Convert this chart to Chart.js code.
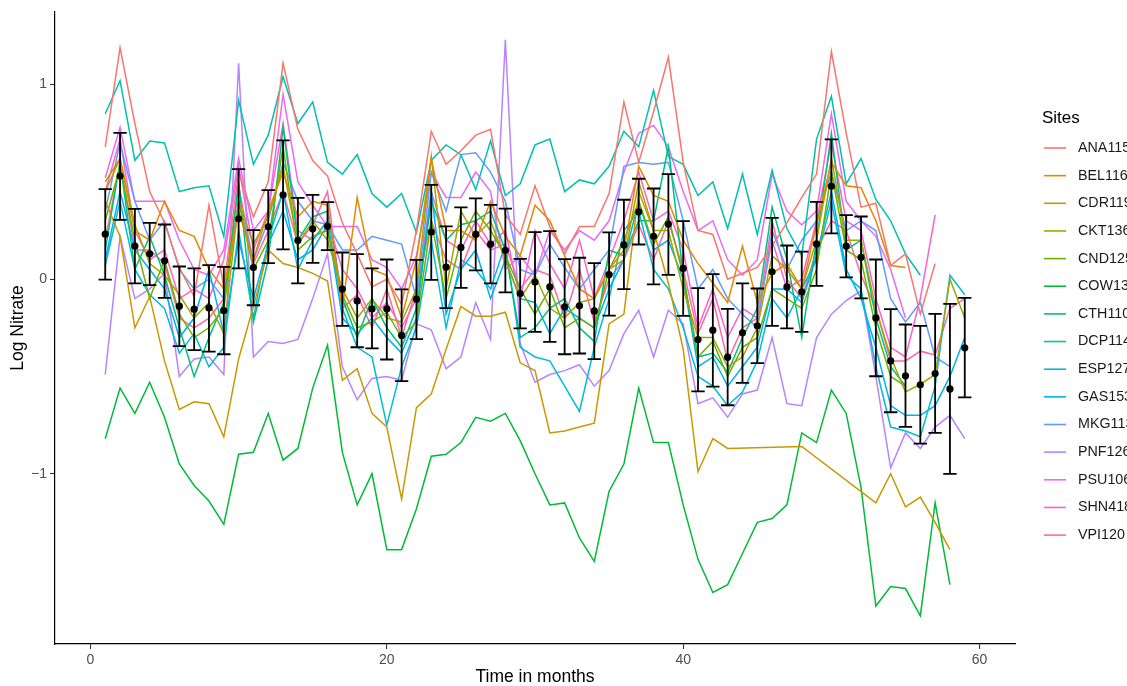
<!DOCTYPE html>
<html>
<head>
<meta charset="utf-8">
<script src="https://cdn.jsdelivr.net/npm/chart.js@4"></script>
<style>
  html, body { margin: 0; padding: 0; background: #fff; overflow: hidden; }
  #wrap { width: 1127px; height: 686px; }
</style>
</head>
<body>
<div id="wrap"><canvas id="chart" width="1127" height="686"></canvas></div>
<script>
const months = [1,2,3,4,5,6,7,8,9,10,11,12,13,14,15,16,17,18,19,20,21,22,23,24,25,26,27,28,29,30,31,32,33,34,35,36,37,38,39,40,41,42,43,44,45,46,47,48,49,50,51,52,53,54,55,56,57,58,59];
const xTicks = [0, 20, 40, 60];
const yTicks = [-1, 0, 1];

const meanNitrate = [0.231,0.530,0.170,0.130,0.094,-0.139,-0.154,-0.148,-0.161,0.310,0.060,0.269,0.433,0.199,0.259,0.272,-0.051,-0.112,-0.153,-0.153,-0.289,-0.103,0.242,0.062,0.163,0.230,0.180,0.148,-0.074,-0.015,-0.040,-0.142,-0.137,-0.163,0.024,0.176,0.346,0.220,0.283,0.055,-0.310,-0.262,-0.401,-0.276,-0.240,0.038,-0.040,-0.065,0.181,0.477,0.170,0.112,-0.199,-0.420,-0.497,-0.543,-0.485,-0.564,-0.353];
const upperNitrate = [0.463,0.752,0.361,0.289,0.281,0.065,0.055,0.072,0.063,0.566,0.252,0.458,0.713,0.418,0.433,0.396,0.137,0.129,0.055,0.101,-0.053,0.099,0.485,0.271,0.369,0.415,0.382,0.363,0.104,0.242,0.247,0.103,0.110,0.082,0.240,0.408,0.516,0.466,0.540,0.298,-0.046,0.026,-0.153,-0.022,-0.048,0.315,0.173,0.142,0.397,0.718,0.329,0.322,0.101,-0.154,-0.233,-0.240,-0.178,-0.127,-0.096];
const lowerNitrate = [-0.002,0.305,-0.022,-0.031,-0.096,-0.344,-0.365,-0.372,-0.386,0.055,-0.134,0.082,0.153,-0.022,0.084,0.149,-0.240,-0.350,-0.356,-0.413,-0.524,-0.308,-0.004,-0.149,-0.045,0.045,-0.022,-0.068,-0.253,-0.271,-0.322,-0.386,-0.382,-0.411,-0.187,-0.051,0.178,-0.027,0.022,-0.189,-0.577,-0.552,-0.648,-0.533,-0.432,-0.240,-0.253,-0.271,-0.034,0.235,0.009,-0.099,-0.499,-0.684,-0.759,-0.845,-0.790,-1.001,-0.608];

const siteNames = ["ANA115","BEL116","CDR119","CKT136","CND125","COW137","CTH110","DCP114","ESP127","GAS153","MKG113","PNF126","PSU106","SHN418","VPI120"];
const siteColors = ["#F8766D","#E58700","#C99800","#A3A500","#6BB100","#00BA38","#00BF7D","#00C0AF","#00BCD8","#00B0F6","#619CFF","#B983FF","#E76BF3","#FD61D1","#FF67A4"];

const ana115 = [0.68,1.19,0.80,0.45,0.29,0.06,-0.09,0.38,-0.04,0.55,0.32,0.50,1.11,0.77,0.61,0.53,0.29,0.13,-0.04,0.00,-0.13,0.25,0.76,0.59,0.66,0.74,0.77,0.33,0.23,0.48,0.27,0.13,0.27,0.27,0.44,0.91,0.60,0.86,1.14,0.60,0.25,0.23,0.00,0.03,0.06,0.17,0.29,0.42,0.54,1.17,0.75,0.37,0.39,0.07,0.13,-0.18,0.08,null,null];
const bel116 = [0.45,0.62,0.25,0.20,0.40,0.25,0.22,0.05,-0.05,0.35,0.10,0.35,0.55,0.32,0.40,0.38,-0.15,0.42,0.05,0.02,-0.20,0.10,0.62,0.25,0.25,0.20,0.40,0.22,0.12,0.38,0.30,0.12,-0.05,-0.10,0.05,0.15,0.58,0.43,0.40,0.20,0.08,-0.02,-0.12,0.17,-0.12,0.03,0.08,-0.05,0.28,0.60,0.48,0.47,0.30,0.07,0.06,null,null,null,null];
const cdr119 = [0.40,0.22,-0.25,-0.09,-0.42,-0.67,-0.63,-0.64,-0.81,-0.41,-0.14,0.15,0.08,0.06,0.03,-0.01,-0.52,-0.46,-0.69,-0.76,-1.13,-0.66,-0.59,-0.36,-0.14,-0.19,-0.19,-0.17,-0.43,-0.47,-0.79,-0.78,-0.76,-0.74,-0.23,-0.18,0.45,0.25,-0.02,-0.36,-0.99,-0.82,-0.87,null,null,null,null,-0.86,null,null,null,null,-1.15,-1.00,-1.17,-1.12,-1.25,-1.39,null];
const ckt136 = [0.50,0.62,0.28,0.08,0.02,-0.08,-0.20,-0.12,-0.28,0.40,0.18,0.32,0.58,0.18,0.30,0.20,-0.05,-0.20,-0.10,-0.20,-0.22,-0.05,0.63,-0.05,0.35,0.22,0.30,0.10,-0.10,0.02,-0.15,-0.20,-0.12,-0.10,0.05,0.10,0.50,0.25,0.25,-0.05,-0.30,-0.30,-0.45,-0.40,-0.25,0.12,0.05,-0.05,0.20,0.62,0.20,0.20,-0.15,-0.40,-0.58,-0.54,-0.49,0.00,-0.20];
const cnd125 = [0.30,0.58,0.20,-0.10,0.10,-0.18,-0.30,-0.25,-0.15,0.40,0.05,0.20,0.68,0.15,0.22,0.25,-0.08,-0.25,-0.22,-0.17,-0.30,-0.22,0.30,-0.10,0.20,0.35,0.25,0.12,-0.05,-0.18,-0.05,-0.25,-0.20,-0.25,0.05,0.20,0.40,0.18,0.32,0.02,-0.40,-0.32,-0.50,-0.35,-0.30,-0.05,-0.10,-0.15,0.05,0.55,0.15,0.10,-0.25,-0.50,-0.55,null,null,null,null];
const cow137 = [-0.82,-0.56,-0.69,-0.53,-0.71,-0.95,-1.06,-1.14,-1.26,-0.90,-0.89,-0.69,-0.93,-0.87,-0.56,-0.34,-0.89,-1.16,-1.00,-1.39,-1.39,-1.18,-0.91,-0.90,-0.84,-0.71,-0.73,-0.69,-0.83,-1.00,-1.16,-1.15,-1.33,-1.45,-1.09,-0.95,-0.56,-0.84,-0.84,-1.16,-1.44,-1.61,-1.57,-1.41,-1.25,-1.23,-1.16,-0.79,-0.84,-0.57,-0.69,-1.07,-1.68,-1.58,-1.59,-1.73,-1.15,-1.57,null];
const cth110 = [0.15,0.60,0.05,0.22,0.02,-0.25,-0.50,-0.30,-0.12,0.50,-0.22,0.10,0.78,0.20,0.32,0.35,-0.10,-0.30,-0.10,-0.25,-0.35,-0.15,0.40,0.20,0.28,0.30,0.35,0.15,-0.30,-0.25,-0.15,-0.10,-0.25,-0.32,0.15,0.12,0.30,0.30,0.68,0.02,-0.40,-0.38,-0.48,-0.30,-0.15,0.37,0.10,-0.30,0.20,0.75,0.15,0.20,-0.20,-0.45,-0.55,null,null,null,null];
const dcp114 = [0.85,1.02,0.61,0.71,0.70,0.45,0.47,0.48,0.22,0.92,0.59,0.74,1.04,0.80,0.91,0.60,0.54,0.64,0.44,0.37,0.44,0.24,0.61,0.69,0.64,0.46,0.71,0.43,0.49,0.69,0.72,0.45,0.51,0.49,0.58,0.76,0.68,0.97,0.63,0.59,0.43,0.50,0.26,0.54,0.23,0.56,0.26,0.12,0.72,0.94,0.49,0.62,0.41,0.30,0.13,0.02,null,null,null];
const esp127 = [0.07,0.40,0.05,-0.08,-0.15,-0.38,-0.28,-0.45,-0.35,0.25,-0.20,0.20,0.45,0.05,0.20,0.30,-0.15,-0.35,-0.40,-0.75,-0.45,-0.25,0.20,-0.25,0.10,0.05,-0.05,0.18,-0.35,-0.40,-0.42,-0.55,-0.68,-0.35,-0.10,0.25,0.35,0.05,-0.05,-0.25,-0.50,-0.55,-0.65,-0.58,-0.42,-0.10,-0.20,-0.05,0.10,0.40,0.02,-0.05,-0.45,-0.76,-0.78,-0.81,-0.55,0.02,-0.08];
const gas153 = [0.10,0.45,0.15,0.05,-0.05,-0.30,-0.20,0.05,-0.28,0.20,-0.10,0.18,0.35,0.10,0.15,0.28,-0.20,-0.28,-0.20,-0.30,-0.38,-0.20,0.45,-0.18,0.05,0.15,-0.10,0.10,-0.10,-0.12,-0.28,-0.15,-0.20,-0.25,-0.05,0.10,0.40,0.15,0.20,0.00,-0.45,-0.40,-0.55,-0.45,-0.35,-0.05,-0.05,-0.12,0.12,0.45,0.05,-0.10,-0.35,-0.65,-0.70,-0.70,-0.65,-0.50,-0.30];
const mkg113 = [0.35,0.70,0.40,0.20,0.30,0.05,-0.05,0.00,-0.10,0.40,0.10,0.30,0.60,0.40,0.30,0.28,0.15,0.15,0.22,0.20,0.18,-0.10,0.55,0.35,0.64,0.65,0.55,0.40,0.05,0.02,0.18,0.06,-0.05,0.05,0.15,0.58,0.60,0.59,0.60,0.30,-0.05,0.05,-0.10,-0.18,-0.25,0.25,0.05,0.20,0.30,0.55,0.25,0.30,0.25,-0.10,-0.22,-0.12,-0.40,-0.45,null];
const pnf126 = [-0.49,0.22,-0.10,-0.05,0.03,-0.50,-0.41,-0.40,-0.49,1.11,-0.40,-0.32,-0.33,-0.31,-0.10,0.13,-0.45,-0.62,-0.51,-0.50,-0.52,-0.23,-0.26,-0.46,-0.40,-0.12,-0.31,1.23,-0.33,-0.53,-0.49,-0.47,-0.44,-0.55,-0.47,-0.28,-0.16,-0.40,-0.16,-0.23,-0.64,-0.61,-0.71,-0.59,-0.57,-0.30,-0.64,-0.65,-0.30,-0.18,-0.11,-0.06,-0.50,-0.97,-0.79,-0.87,-0.76,-0.70,-0.82];
const psu106 = [0.52,0.78,0.40,0.40,0.40,0.20,0.05,0.02,0.15,0.62,0.25,0.35,0.95,0.50,0.38,0.27,0.27,0.27,0.10,0.06,-0.05,0.12,0.55,0.42,0.42,0.55,0.45,0.05,0.12,0.02,0.25,0.15,0.25,0.20,0.30,0.55,0.75,0.79,0.68,0.45,0.25,0.30,0.10,0.02,0.10,0.54,0.35,0.28,0.35,0.85,0.40,0.30,0.22,0.05,-0.20,null,null,null,null];
const shn418 = [0.45,0.72,0.25,0.10,0.15,-0.10,-0.05,-0.10,0.10,0.58,0.15,0.35,0.80,0.25,0.20,0.30,0.05,-0.05,-0.20,-0.12,-0.25,-0.10,0.45,0.20,0.15,0.30,0.18,0.25,-0.10,0.25,0.08,-0.05,0.20,-0.10,0.10,0.30,0.55,0.30,0.35,0.15,-0.25,-0.05,-0.30,-0.15,-0.20,0.20,-0.05,0.00,0.30,0.70,0.30,0.25,-0.10,-0.35,-0.40,-0.10,0.33,null,null];
const vpi120 = [0.20,0.60,0.15,0.15,0.08,-0.20,-0.25,-0.20,-0.10,0.48,0.08,0.25,0.45,0.18,0.28,0.45,-0.15,-0.08,-0.25,-0.05,-0.30,-0.05,0.30,0.10,0.05,0.25,0.15,0.18,-0.05,0.05,0.02,-0.20,0.05,-0.22,0.00,0.10,0.28,0.10,0.30,0.05,-0.28,-0.10,-0.42,-0.25,-0.20,0.30,0.00,-0.10,0.15,0.30,0.25,0.02,-0.15,-0.42,-0.42,-0.37,-0.39,-0.15,-0.10];

const siteValues = [ana115, bel116, cdr119, ckt136, cnd125, cow137, cth110, dcp114, esp127, gas153, mkg113, pnf126, psu106, shn418, vpi120];

const FONT = '"Liberation Sans", Arial, Helvetica, sans-serif';
Chart.defaults.font.family = FONT;

// error bars go under the mean points
const errorBars = {
  id: "errorBars",
  beforeDatasetDraw: (chart, args) => {
    if (chart.data.datasets[args.index].label !== "mean") return;
    const { ctx, scales: { x, y } } = chart;
    ctx.save();
    ctx.strokeStyle = "#000";
    ctx.lineWidth = 1.8;
    months.forEach((m, i) => {
      const px = x.getPixelForValue(m);
      const left = x.getPixelForValue(m - 0.45);
      const right = x.getPixelForValue(m + 0.45);
      const top = y.getPixelForValue(upperNitrate[i]);
      const bottom = y.getPixelForValue(lowerNitrate[i]);
      ctx.beginPath();
      ctx.moveTo(px, top);
      ctx.lineTo(px, bottom);
      ctx.moveTo(left, top);
      ctx.lineTo(right, top);
      ctx.moveTo(left, bottom);
      ctx.lineTo(right, bottom);
      ctx.stroke();
    });
    ctx.restore();
  },
};

// ggplot-style legend on the right, clipped by the canvas edge
const siteLegend = {
  id: "siteLegend",
  afterDraw: (chart) => {
    const { ctx, chartArea } = chart;
    const left = chartArea.right + 27;
    const top = chartArea.top;
    ctx.save();
    ctx.textBaseline = "middle";
    ctx.textAlign = "left";
    ctx.fillStyle = "#000";
    ctx.font = "17px " + FONT;
    ctx.fillText("Sites", left, top + 106);
    ctx.font = "14.3px " + FONT;
    siteNames.forEach((name, i) => {
      const cy = top + 136 + i * 27.65;
      ctx.strokeStyle = siteColors[i];
      ctx.lineWidth = 1.6;
      ctx.beginPath();
      ctx.moveTo(left + 2, cy);
      ctx.lineTo(left + 24, cy);
      ctx.stroke();
      ctx.fillStyle = "#1a1a1a";
      ctx.fillText(name, left + 36, cy);
    });
    ctx.restore();
  },
};

const siteDatasets = siteNames.map((name, i) => ({
  label: name,
  data: months.map((m, j) => ({ x: m, y: siteValues[i][j] })),
  borderColor: siteColors[i],
  backgroundColor: siteColors[i],
  borderWidth: 1.5,
  pointRadius: 0,
  tension: 0,
  spanGaps: true,
  order: 1,
}));

const ctx = document.getElementById("chart");
const chart = new Chart(ctx, {
  type: "line",
  data: {
    datasets: [
      ...siteDatasets,
      {
        label: "mean",
        data: months.map((m, j) => ({ x: m, y: meanNitrate[j] })),
        showLine: false,
        pointRadius: 3.6,
        pointBackgroundColor: "#000",
        pointBorderColor: "#000",
        pointBorderWidth: 0,
        order: 0,
      },
    ],
  },
  options: {
    responsive: false,
    devicePixelRatio: 1,
    animation: false,
    layout: { padding: { top: 12, right: 112, bottom: 0, left: 0 } },
    plugins: {
      legend: { display: false },
      tooltip: { enabled: false },
    },
    scales: {
      x: {
        type: "linear",
        min: -2.39,
        max: 62.39,
        afterBuildTicks: (scale) => {
          scale.ticks = xTicks.map((v) => ({ value: v }));
        },
        afterFit: (scale) => {
          scale.height = 42;
        },
        grid: { drawOnChartArea: false, tickLength: 5, tickColor: "#333", tickWidth: 1.1 },
        border: { display: true, color: "#000", width: 1.2 },
        ticks: { color: "#4d4d4d", font: { size: 14 }, padding: 3, maxRotation: 0 },
        title: {
          display: true,
          text: "Time in months",
          color: "#000",
          font: { size: 17.5, lineHeight: 1 },
          padding: { top: 0, bottom: 0 },
        },
      },
      y: {
        type: "linear",
        min: -1.875,
        max: 1.373,
        afterBuildTicks: (scale) => {
          scale.ticks = yTicks.map((v) => ({ value: v }));
        },
        afterFit: (scale) => {
          scale.width = 55;
        },
        grid: { drawOnChartArea: false, tickLength: 5, tickColor: "#333", tickWidth: 1.1 },
        border: { display: true, color: "#000", width: 1.2 },
        ticks: {
          color: "#4d4d4d",
          font: { size: 14 },
          padding: 3,
          callback: (v) => String(v).replace("-", "\u2212"),
        },
        title: {
          display: true,
          text: "Log Nitrate",
          color: "#000",
          font: { size: 17.5, lineHeight: 1 },
          padding: { top: 9, bottom: 0 },
        },
      },
    },
  },
  plugins: [errorBars, siteLegend],
});
</script>
</body>
</html>
